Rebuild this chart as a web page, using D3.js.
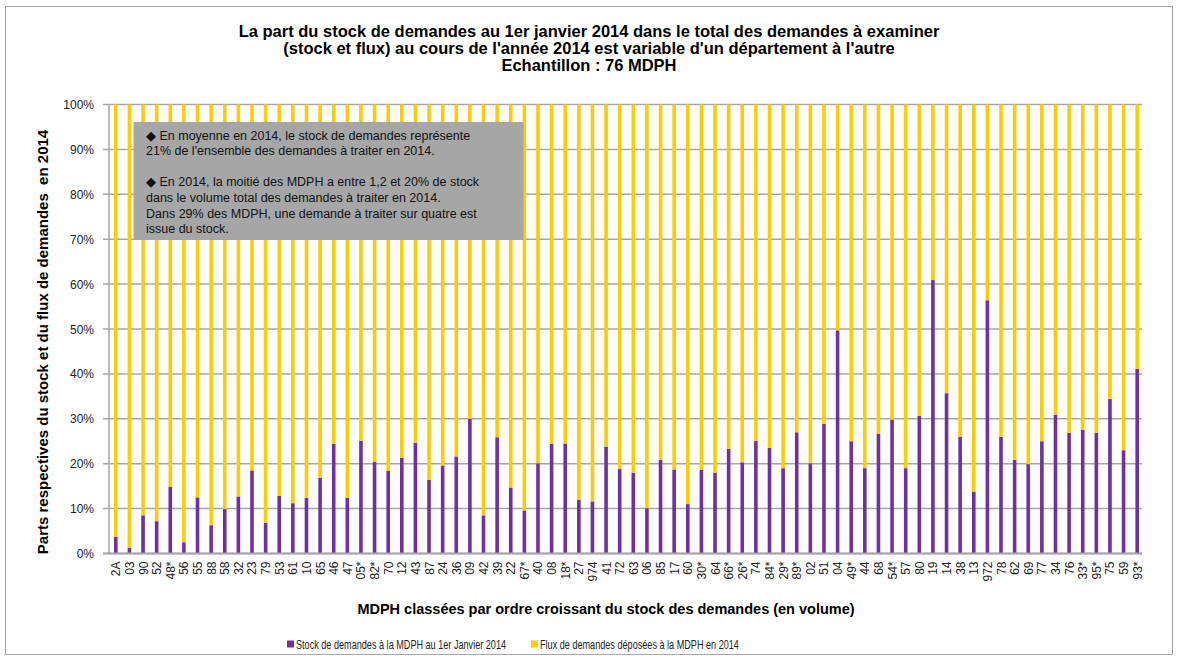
<!DOCTYPE html>
<html lang="fr">
<head>
<meta charset="UTF-8">
<title>Stock de demandes MDPH 2014</title>
<style>
  body { margin: 0; background: #fff; }
  svg { display: block; font-family: "Liberation Sans", Arial, sans-serif; }
</style>
</head>
<body>
<svg></svg>
<script src="https://d3js.org/d3.v7.min.js"></script>
<script>
let width = 1177, height = 661;

// departements, ordered as in the chart
let depts = ["2A","03","90","52","48*","56","55","88","58","32","23","79","53","61","10","65","46","47","05*","82*",
  "70","12","43","87","24","36","09","42","39","22","67*","40","08","18*","27","974","41","72","63","06",
  "85","17","60","30*","64","66*","26*","74","84*","29*","89*","02","51","04","49*","44","68","54*","57","80",
  "19","14","38","13","972","78","62","69","77","34","76","33*","95*","75","59","93*"];

// share of stock (%); flux = 100 - stock
let stock = [3.7,1.3,8.5,7.2,14.9,2.5,12.5,6.3,9.9,12.7,18.5,6.8,12.8,11.2,12.4,16.9,24.4,12.4,25.1,20.4,
  18.4,21.3,24.7,16.4,19.6,21.6,30.0,8.5,25.9,14.7,9.6,20.1,24.4,24.5,12.0,11.6,23.8,18.8,18.0,10.1,
  20.9,18.7,11.0,18.6,18.0,23.3,20.3,25.1,23.5,19.0,27.0,20.1,28.9,49.7,25.0,19.0,26.7,29.8,19.0,30.7,
  60.9,35.7,26.0,13.8,56.4,26.0,20.9,19.9,25.0,30.9,26.9,27.5,26.9,34.4,23.0,41.1];

let yTicks = [0,10,20,30,40,50,60,70,80,90,100];

let titleLines = [
  "La part du stock de demandes au 1er janvier 2014 dans le total des demandes à examiner",
  "(stock et flux) au cours de l'année 2014 est variable d'un département à l'autre",
  "Echantillon : 76 MDPH"
];

let noteLines = [
  "\u25C6 En moyenne en 2014, le stock de demandes représente",
  "21% de l'ensemble des demandes à traiter en 2014.",
  "",
  "\u25C6 En 2014, la moitié des MDPH a entre 1,2 et 20% de stock",
  "dans le volume total des demandes à traiter en 2014.",
  "Dans 29% des MDPH, une demande à traiter sur quatre est",
  "issue du stock."
];

let legendItems = [
  {label: "Stock de demandes à la MDPH au 1er Janvier 2014", color: "#7030a0", x: 287},
  {label: "Flux de demandes déposées à la MDPH en 2014", color: "#ffcc00", x: 531}
];

let rows = depts.map((d, i) => ({dept: d, stock: stock[i], flux: 100 - stock[i]}));

let svg = d3.select("svg")
  .attr("width", width)
  .attr("height", height);

// outer frame
svg.append("rect")
  .attr("x", 5.5).attr("y", 6.5)
  .attr("width", 1167).attr("height", 648)
  .attr("fill", "#fff")
  .attr("stroke", "#a6a6a6")
  .attr("stroke-width", 1);

let plotL = 109, plotR = 1144, plotT = 104.5, plotB = 553.5;

let x = d3.scaleBand()
  .domain(depts)
  .range([plotL, plotR]);

let y = d3.scaleLinear()
  .domain([0, 100])
  .range([plotB, plotT]);

// gridlines
svg.append("g")
  .selectAll("line")
  .data(yTicks)
  .enter()
  .append("line")
    .attr("x1", plotL - 6)
    .attr("x2", plotR - 2)
    .attr("y1", d => y(d))
    .attr("y2", d => y(d))
    .attr("stroke", "#a6a6a6")
    .attr("stroke-width", 1.5);

// y axis line
svg.append("line")
  .attr("x1", plotL).attr("x2", plotL)
  .attr("y1", plotT).attr("y2", plotB)
  .attr("stroke", "#a6a6a6")
  .attr("stroke-width", 1.5);

// y tick labels
svg.append("g")
  .selectAll("text")
  .data(yTicks)
  .enter()
  .append("text")
    .attr("x", 94)
    .attr("y", d => y(d) + 4.5)
    .attr("text-anchor", "end")
    .attr("font-size", 12)
    .attr("fill", "#222")
    .text(d => d + "%");

// stacked bars
let series = d3.stack().keys(["stock", "flux"])(rows);
let colors = {stock: "#7030a0", flux: "#ffcc00"};
let barW = 3.6;

svg.append("g")
  .selectAll("g")
  .data(series)
  .enter()
  .append("g")
    .attr("fill", d => colors[d.key])
  .selectAll("rect")
  .data(d => d)
  .enter()
  .append("rect")
    .attr("x", d => x(d.data.dept) + x.bandwidth() / 2 - barW / 2)
    .attr("width", barW)
    .attr("y", d => y(d[1]))
    .attr("height", d => y(d[0]) - y(d[1]));

// bottom axis line
svg.append("line")
  .attr("x1", plotL - 6).attr("x2", plotR - 2)
  .attr("y1", plotB).attr("y2", plotB)
  .attr("stroke", "#a6a6a6")
  .attr("stroke-width", 2);

// x tick labels, rotated
svg.append("g")
  .selectAll("text")
  .data(depts)
  .enter()
  .append("text")
    .attr("transform", d => `translate(${x(d) + x.bandwidth() / 2 + 4.5},${plotB + 8}) rotate(-90)`)
    .attr("text-anchor", "end")
    .attr("font-size", 12)
    .attr("fill", "#222")
    .text(d => d);

// title
svg.append("g")
  .selectAll("text")
  .data(titleLines)
  .enter()
  .append("text")
    .attr("x", 589)
    .attr("y", (d, i) => 36.5 + i * 17.3)
    .attr("text-anchor", "middle")
    .attr("font-size", 16.5)
    .attr("font-weight", "bold")
    .text(d => d);

// y axis title
svg.append("text")
  .attr("transform", `translate(48,342) rotate(-90)`)
  .attr("text-anchor", "middle")
  .attr("font-size", 15)
  .attr("font-weight", "bold")
  .style("white-space", "pre")
  .text("Parts respectives du stock et du flux de demandes  en 2014");

// x axis title
svg.append("text")
  .attr("x", 606)
  .attr("y", 614)
  .attr("text-anchor", "middle")
  .attr("font-size", 14.5)
  .attr("font-weight", "bold")
  .text("MDPH classées par ordre croissant du stock des demandes (en volume)");

// annotation box
svg.append("rect")
  .attr("x", 133.5).attr("y", 122)
  .attr("width", 390).attr("height", 118)
  .attr("fill", "#a6a6a6");

svg.append("g")
  .selectAll("text")
  .data(noteLines)
  .enter()
  .append("text")
    .attr("x", 146)
    .attr("y", (d, i) => 139.5 + i * 15.65)
    .attr("font-size", 12.5)
    .attr("fill", "#111")
    .text(d => d);

// legend (narrow font look: squeeze the text horizontally)
let legend = svg.append("g")
  .selectAll("g")
  .data(legendItems)
  .enter()
  .append("g")
    .attr("transform", d => `translate(${d.x},640)`);

legend.append("rect")
  .attr("width", 7).attr("height", 7)
  .attr("y", 0.5)
  .attr("fill", d => d.color);

legend.append("text")
  .attr("transform", "translate(9,8.5) scale(0.76,1)")
  .attr("font-size", 12)
  .attr("fill", "#222")
  .text(d => d.label);
</script>
</body>
</html>
